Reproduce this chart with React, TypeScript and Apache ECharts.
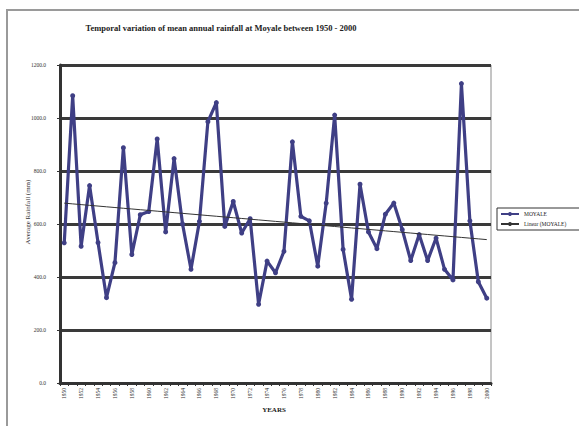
import React, { useEffect, useRef } from "react";
import * as echarts from "echarts";

const years: string[] = [];
for (let y = 1950; y <= 2000; y++) years.push(String(y));

const rainfall: number[] = [
  529, 1084, 516, 745, 530, 322, 454, 888, 485, 635,
  647, 921, 570, 847, 600, 429, 610, 986, 1058, 591,
  685, 566, 620, 297, 460, 416, 497, 910, 629, 612,
  441, 679, 1011, 504, 316, 750, 570, 507, 637, 679,
  579, 462, 560, 462, 547, 429, 389, 1130, 612, 382,
  320,
];

const titleText = "Temporal variation of mean annual rainfall at Moyale between 1950 - 2000";
const yAxisTitle = "Average Rainfall (mm)";
const xAxisTitle = "YEARS";
const seriesName = "MOYALE";
const trendName = "Linear (MOYALE)";

// least-squares linear trendline (as Excel's "Linear" trendline)
function linearTrend(vals: number[]): number[] {
  const n = vals.length;
  let sx = 0, sy = 0, sxy = 0, sxx = 0;
  vals.forEach((v, i) => { sx += i; sy += v; sxy += i * v; sxx += i * i; });
  const b = (n * sxy - sx * sy) / (n * sxx - sx * sx);
  const a = (sy - b * sx) / n;
  return vals.map((_, i) => +(a + b * i).toFixed(1));
}

const serif = '"Liberation Serif", "Times New Roman", serif';

export default function App() {
  const ref = useRef<HTMLDivElement>(null);
  useEffect(() => {
    if (!ref.current) return;
    const chart = echarts.init(ref.current, undefined, { renderer: "svg" });
    const trend = linearTrend(rainfall);
    chart.setOption({
      animation: false,
      backgroundColor: "#ffffff",
      grid: { left: 60, right: 88, top: 65, bottom: 43, show: true, borderColor: "#8a8a8a", borderWidth: 1 },
      xAxis: {
        type: "category",
        data: years,
        boundaryGap: true,
        axisLine: { lineStyle: { color: "#333", width: 3 } },
        axisTick: { show: true, interval: 0, length: 3, lineStyle: { color: "#333", width: 1 } },
        axisLabel: { interval: 1, rotate: 90, fontSize: 5.5, fontFamily: serif, color: "#333", margin: 5 },
        splitLine: { show: false },
      },
      yAxis: {
        type: "value",
        min: 0,
        max: 1200,
        interval: 200,
        axisLine: { show: true, lineStyle: { color: "#333", width: 3 } },
        axisTick: { show: true, length: 3, lineStyle: { color: "#333", width: 1 } },
        axisLabel: { fontSize: 5.5, fontFamily: serif, color: "#333", margin: 14, formatter: (v: number) => v.toFixed(1) },
        splitLine: { lineStyle: { color: "#3a3a3a", width: 2.8 } },
      },
      legend: {
        left: 497,
        top: 208,
        orient: "vertical",
        itemWidth: 18,
        itemHeight: 5,
        itemGap: 4,
        padding: [3, 14, 3, 3],
        borderColor: "#333",
        borderWidth: 1,
        textStyle: { fontSize: 5.5, fontFamily: serif, color: "#222" },
        data: [seriesName, trendName],
      },
      series: [
        {
          name: seriesName,
          type: "line",
          data: rainfall,
          symbol: "circle",
          symbolSize: 5,
          lineStyle: { color: "#3f3f85", width: 3.2 },
          itemStyle: { color: "#3f3f85" },
          z: 3,
        },
        {
          name: trendName,
          type: "line",
          data: trend,
          symbol: "none",
          lineStyle: { color: "#333", width: 1 },
          itemStyle: { color: "#333" },
          z: 4,
        },
      ],
      graphic: [
        { type: "rect", silent: true, shape: { x: 7, y: 10, width: 620, height: 460 }, style: { fill: "none", stroke: "#9a9a9a", lineWidth: 2 } },
        { type: "text", x: 221, y: 28, silent: true, style: { text: titleText, font: `bold 8.5px ${serif}`, fill: "#222", align: "center", verticalAlign: "middle" } },
        { type: "text", x: 28, y: 212, rotation: Math.PI / 2, silent: true, style: { text: yAxisTitle, font: `7px ${serif}`, fill: "#333", align: "center", verticalAlign: "middle" } },
        { type: "text", x: 274, y: 410, silent: true, style: { text: xAxisTitle, font: `bold 7px ${serif}`, fill: "#222", align: "center", verticalAlign: "middle" } },
      ],
    });
    return () => chart.dispose();
  }, []);
  return <div ref={ref} style={{ position: "fixed", left: 0, top: 0, width: 579, height: 426 }} />;
}
